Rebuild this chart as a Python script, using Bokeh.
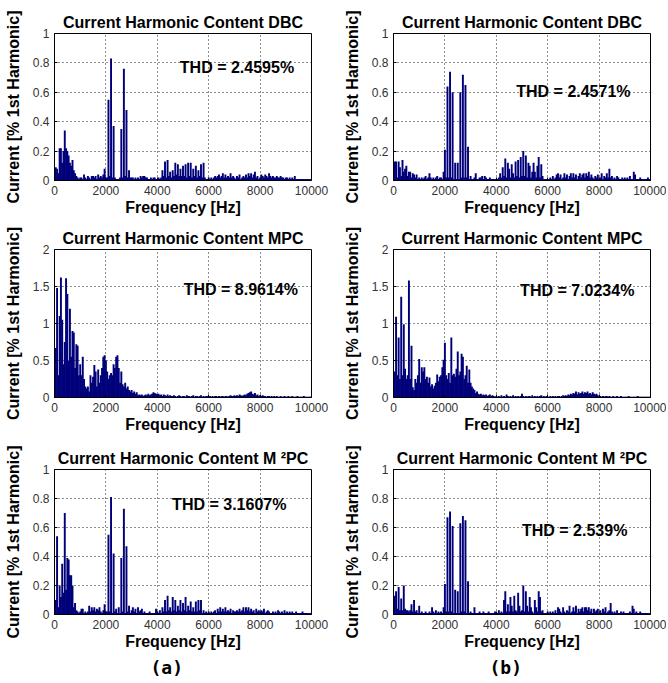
from bokeh.plotting import figure
from bokeh.layouts import column, row
from bokeh.models import Range1d, FixedTicker, Label, Title
from bokeh.embed import file_html
from bokeh.resources import INLINE

# ---------------- data ----------------
freqs = list(range(50, 10001, 50))  # harmonic frequency grid [Hz]

dbc_a = (
    [0.09,0.08,0.05,0.22,0.22,0.12,0.20,0.34,0.22,0.20,0.17,0.12,0.10,0.14,0.07,0.05,0.03,0.02,0.01,0.02]
  + [0.02,0.01,0.04,0.02,0.01,0.03,0.02,0.01,0.03,0.03,0.02,0.03,0.01,0.04,0.02,0.03,0.02,0.04,0.08,0.02]
  + [0.02,0.55,0.03,0.83,0.02,0.37,0.02,0.01,0.01,0.01,0.02,0.35,0.02,0.76,0.03,0.48,0.02,0.07,0.02,0.02]
  + [0.02,0.01,0.02,0.01,0.02,0.01,0.03,0.02,0.03,0.03,0.02,0.02,0.01,0.01,0.02,0.01,0.02,0.02,0.01,0.01]
  + [0.02,0.01,0.02,0.07,0.03,0.13,0.02,0.14,0.03,0.06,0.02,0.07,0.03,0.12,0.04,0.11,0.03,0.08,0.03,0.10]
  + [0.03,0.11,0.02,0.12,0.03,0.12,0.02,0.08,0.03,0.10,0.02,0.07,0.03,0.11,0.02,0.12,0.02,0.01,0.01,0.02]
  + [0.01,0.02,0.01,0.02,0.03,0.02,0.03,0.04,0.02,0.03,0.05,0.02,0.04,0.02,0.03,0.02,0.05,0.02,0.03,0.02]
  + [0.01,0.03,0.02,0.04,0.01,0.02,0.03,0.02,0.04,0.02,0.05,0.03,0.05,0.02,0.04,0.06,0.02,0.03,0.01,0.02]
  + [0.04,0.03,0.02,0.04,0.03,0.02,0.05,0.03,0.02,0.03,0.02,0.02,0.03,0.02,0.02,0.03,0.02,0.02,0.01,0.02]
  + [0.02,0.01,0.02,0.01,0.02,0.01,0.03,0.01,0.01,0.01,0.01,0.01,0.01,0.01,0.01,0.01,0.01,0.01,0.01,0.01]
)

dbc_b = (
    [0.13,0.13,0.02,0.13,0.09,0.03,0.14,0.06,0.08,0.10,0.03,0.06,0.06,0.02,0.05,0.04,0.02,0.04,0.01,0.02]
  + [0.01,0.02,0.01,0.02,0.03,0.01,0.02,0.05,0.02,0.01,0.02,0.01,0.02,0.03,0.01,0.02,0.02,0.01,0.06,0.21]
  + [0.02,0.64,0.02,0.74,0.02,0.60,0.01,0.12,0.01,0.12,0.01,0.60,0.02,0.72,0.02,0.65,0.02,0.23,0.01,0.03]
  + [0.01,0.01,0.02,0.05,0.01,0.01,0.02,0.02,0.03,0.01,0.03,0.02,0.01,0.01,0.02,0.01,0.01,0.01,0.01,0.01]
  + [0.01,0.02,0.05,0.02,0.09,0.03,0.15,0.02,0.12,0.08,0.02,0.11,0.05,0.02,0.13,0.03,0.14,0.02,0.16,0.03]
  + [0.20,0.03,0.17,0.02,0.12,0.10,0.02,0.06,0.12,0.06,0.02,0.10,0.16,0.02,0.11,0.03,0.01,0.01,0.01,0.01]
  + [0.01,0.02,0.01,0.03,0.01,0.02,0.04,0.05,0.02,0.04,0.01,0.02,0.05,0.02,0.04,0.01,0.03,0.05,0.02,0.05]
  + [0.02,0.04,0.01,0.03,0.05,0.02,0.04,0.05,0.02,0.05,0.03,0.06,0.02,0.04,0.02,0.01,0.03,0.02,0.04,0.01]
  + [0.02,0.05,0.01,0.03,0.02,0.05,0.02,0.08,0.02,0.03,0.01,0.02,0.01,0.03,0.02,0.01,0.01,0.02,0.01,0.02]
  + [0.01,0.02,0.01,0.03,0.01,0.01,0.06,0.04,0.01,0.01,0.01,0.02,0.01,0.01,0.01,0.01,0.01,0.02,0.01,0.01]
)

mpc_a = (
    [0.67,1.48,0.30,1.10,1.62,1.05,0.45,0.75,1.61,1.40,0.50,1.20,0.55,0.90,0.88,0.40,0.72,0.70,0.30,0.45]
  + [0.30,0.55,0.25,0.15,0.12,0.15,0.08,0.30,0.20,0.28,0.44,0.35,0.15,0.38,0.20,0.30,0.40,0.55,0.57,0.50]
  + [0.35,0.25,0.30,0.33,0.30,0.45,0.40,0.55,0.57,0.40,0.20,0.35,0.18,0.15,0.20,0.12,0.15,0.10,0.08,0.10]
  + [0.06,0.08,0.05,0.07,0.03,0.04,0.03,0.04,0.02,0.03,0.04,0.03,0.05,0.03,0.04,0.05,0.07,0.06,0.05,0.04]
  + [0.05,0.03,0.04,0.02,0.04,0.03,0.02,0.04,0.02,0.03,0.02,0.02,0.03,0.02,0.01,0.02,0.03,0.02,0.01,0.02]
  + [0.02,0.01,0.03,0.02,0.02,0.01,0.02,0.03,0.01,0.02,0.02,0.01,0.02,0.03,0.01,0.02,0.01,0.02,0.02,0.01]
  + [0.02,0.01,0.02,0.01,0.02,0.02,0.01,0.02,0.01,0.02,0.02,0.01,0.02,0.02,0.01,0.02,0.03,0.02,0.02,0.03]
  + [0.02,0.03,0.02,0.04,0.03,0.02,0.03,0.04,0.03,0.05,0.06,0.07,0.08,0.05,0.04,0.06,0.03,0.04,0.02,0.03]
  + [0.02,0.03,0.02,0.02,0.01,0.02,0.02,0.01,0.02,0.01,0.02,0.01,0.02,0.01,0.01,0.02,0.01,0.01,0.02,0.01]
  + [0.01,0.02,0.01,0.01,0.02,0.01,0.01,0.01,0.02,0.01,0.01,0.01,0.01,0.02,0.01,0.01,0.01,0.01,0.01,0.01]
)

mpc_b = (
    [0.35,1.09,0.30,0.81,0.25,1.36,0.30,0.99,0.39,0.25,0.30,1.58,0.25,0.70,0.14,0.10,0.25,0.20,0.30,0.52]
  + [0.20,0.41,0.35,0.41,0.25,0.28,0.20,0.27,0.15,0.18,0.12,0.16,0.20,0.31,0.22,0.28,0.30,0.41,0.51,0.74]
  + [0.30,0.25,0.33,0.20,0.81,0.30,0.32,0.28,0.39,0.62,0.30,0.35,0.59,0.55,0.25,0.30,0.43,0.20,0.38,0.20]
  + [0.15,0.12,0.10,0.06,0.08,0.05,0.04,0.05,0.03,0.04,0.03,0.04,0.02,0.03,0.04,0.02,0.03,0.02,0.01,0.02]
  + [0.01,0.02,0.01,0.03,0.01,0.02,0.01,0.04,0.02,0.01,0.02,0.01,0.03,0.01,0.02,0.01,0.02,0.01,0.02,0.05]
  + [0.02,0.01,0.02,0.01,0.02,0.02,0.01,0.03,0.01,0.02,0.01,0.02,0.01,0.02,0.03,0.01,0.02,0.01,0.02,0.01]
  + [0.01,0.02,0.01,0.02,0.01,0.02,0.01,0.02,0.02,0.01,0.02,0.03,0.02,0.03,0.02,0.04,0.03,0.05,0.04,0.06]
  + [0.05,0.08,0.04,0.07,0.05,0.06,0.08,0.05,0.07,0.06,0.08,0.05,0.06,0.04,0.07,0.05,0.04,0.05,0.03,0.02]
  + [0.02,0.01,0.02,0.01,0.02,0.02,0.01,0.02,0.01,0.01,0.02,0.01,0.01,0.02,0.01,0.01,0.02,0.01,0.01,0.01]
  + [0.01,0.01,0.02,0.01,0.01,0.01,0.01,0.01,0.01,0.02,0.01,0.01,0.01,0.01,0.01,0.01,0.01,0.01,0.01,0.01]
)

m2pc_a = (
    [0.10,0.54,0.05,0.20,0.12,0.35,0.15,0.70,0.17,0.39,0.38,0.27,0.27,0.20,0.05,0.08,0.03,0.02,0.01,0.02]
  + [0.04,0.04,0.01,0.02,0.01,0.02,0.06,0.02,0.05,0.03,0.05,0.02,0.04,0.03,0.05,0.02,0.01,0.03,0.07,0.02]
  + [0.02,0.55,0.02,0.81,0.01,0.42,0.02,0.04,0.01,0.05,0.01,0.39,0.02,0.73,0.01,0.47,0.02,0.06,0.01,0.03]
  + [0.05,0.02,0.04,0.01,0.05,0.02,0.03,0.04,0.01,0.02,0.01,0.01,0.01,0.02,0.01,0.01,0.01,0.01,0.04,0.02]
  + [0.01,0.03,0.01,0.05,0.02,0.10,0.02,0.13,0.03,0.05,0.02,0.12,0.03,0.10,0.02,0.06,0.03,0.10,0.02,0.08]
  + [0.03,0.12,0.02,0.06,0.03,0.09,0.02,0.05,0.02,0.09,0.02,0.10,0.03,0.10,0.01,0.03,0.01,0.02,0.01,0.02]
  + [0.01,0.02,0.01,0.02,0.03,0.01,0.04,0.02,0.05,0.02,0.04,0.02,0.05,0.02,0.03,0.02,0.04,0.01,0.03,0.02]
  + [0.02,0.03,0.02,0.04,0.02,0.03,0.05,0.02,0.05,0.03,0.05,0.02,0.04,0.02,0.03,0.01,0.04,0.02,0.03,0.02]
  + [0.03,0.02,0.04,0.01,0.02,0.03,0.02,0.01,0.01,0.02,0.01,0.02,0.01,0.03,0.02,0.01,0.02,0.01,0.03,0.01]
  + [0.02,0.01,0.02,0.01,0.02,0.01,0.01,0.02,0.01,0.01,0.01,0.01,0.02,0.01,0.01,0.01,0.01,0.01,0.01,0.01]
)

m2pc_b = (
    [0.13,0.16,0.04,0.19,0.03,0.11,0.03,0.20,0.04,0.03,0.03,0.02,0.03,0.07,0.02,0.10,0.02,0.03,0.01,0.06]
  + [0.01,0.02,0.01,0.01,0.02,0.01,0.01,0.02,0.01,0.05,0.02,0.01,0.03,0.01,0.02,0.01,0.02,0.01,0.05,0.21]
  + [0.02,0.67,0.02,0.71,0.02,0.61,0.01,0.17,0.01,0.16,0.01,0.63,0.02,0.68,0.02,0.65,0.01,0.23,0.01,0.02]
  + [0.01,0.01,0.05,0.01,0.01,0.01,0.02,0.01,0.01,0.02,0.01,0.01,0.01,0.02,0.01,0.01,0.01,0.01,0.02,0.01]
  + [0.01,0.03,0.01,0.02,0.01,0.10,0.16,0.02,0.07,0.02,0.12,0.06,0.02,0.13,0.03,0.02,0.15,0.06,0.02,0.03]
  + [0.20,0.02,0.16,0.06,0.02,0.12,0.05,0.02,0.01,0.10,0.05,0.02,0.16,0.12,0.02,0.03,0.01,0.01,0.01,0.02]
  + [0.01,0.02,0.01,0.02,0.01,0.03,0.01,0.05,0.04,0.02,0.01,0.05,0.02,0.01,0.03,0.02,0.06,0.01,0.02,0.05]
  + [0.02,0.06,0.01,0.04,0.02,0.04,0.05,0.02,0.05,0.05,0.03,0.05,0.02,0.04,0.01,0.04,0.02,0.03,0.04,0.01]
  + [0.03,0.01,0.04,0.02,0.05,0.01,0.02,0.03,0.08,0.02,0.01,0.02,0.01,0.03,0.01,0.01,0.02,0.01,0.02,0.01]
  + [0.01,0.01,0.01,0.02,0.01,0.06,0.04,0.01,0.02,0.01,0.01,0.02,0.01,0.01,0.01,0.01,0.01,0.01,0.01,0.01]
)

x_ticks = [0, 2000, 4000, 6000, 8000, 10000]
y_ticks_1 = [0, 0.2, 0.4, 0.6, 0.8, 1]
y_labels_1 = ["0", "0.2", "0.4", "0.6", "0.8", "1"]
y_ticks_2 = [0, 0.5, 1, 1.5, 2]
y_labels_2 = ["0", "0.5", "1", "1.5", "2"]

titles = ["Current Harmonic Content DBC", "Current Harmonic Content MPC",
          "Current Harmonic Content M \u00b2PC"]
thd_a = ["THD = 2.4595%", "THD = 8.9614%", "THD = 3.1607%"]
thd_b = ["THD = 2.4571%", "THD = 7.0234%", "THD = 2.539%"]
sub_labels = ["(a)", "(b)"]

# ---------------- styling ----------------
BAR = "#00007A"
FONT = "Liberation Sans"
COL_W = [334, 332]
ROW_H = [222, 218, 240]
BORDER_TB = [(33, 42), (27, 43), (29, 66)]
BORDER_LR = [(54, 23), (59, 16)]


def panel(r, c, title, vals, ymax, yt, yl, thd, thd_pos, sub=None):
    top, bottom = BORDER_TB[r]
    left, right = BORDER_LR[c]
    p = figure(width=COL_W[c], height=ROW_H[r], output_backend="svg", toolbar_location=None,
               x_range=Range1d(0, 10000), y_range=Range1d(0, ymax),
               min_border_left=left, min_border_right=right,
               min_border_top=top, min_border_bottom=bottom)
    p.vbar(x=freqs, top=vals, width=75, fill_color=BAR, line_color=None)

    p.title.text = title
    p.title.align = "center"
    p.title.text_font = FONT
    p.title.text_font_size = "16px"
    p.title.text_font_style = "bold"
    p.title.text_color = "black"
    p.title.standoff = 6

    p.xaxis.ticker = FixedTicker(ticks=x_ticks)
    p.yaxis.ticker = FixedTicker(ticks=yt)
    p.yaxis.major_label_overrides = {t: s for t, s in zip(yt, yl)}
    p.xaxis.axis_label = "Frequency [Hz]"
    p.yaxis.axis_label = "Current [% 1st Harmonic]"
    for ax in (p.xaxis[0], p.yaxis[0]):
        ax.axis_label_text_font = FONT
        ax.axis_label_text_font_size = "16px"
        ax.axis_label_text_font_style = "bold"
        ax.axis_label_text_color = "black"
        ax.major_label_text_font = FONT
        ax.major_label_text_font_size = "12px"
        ax.major_label_text_color = "#333333"
        ax.major_tick_in = 3
        ax.major_tick_out = 0
        ax.minor_tick_in = 0
        ax.minor_tick_out = 0
        ax.axis_line_color = "black"
        ax.major_tick_line_color = "black"
        ax.major_label_standoff = 5
    p.xaxis.axis_label_standoff = 1
    p.yaxis.axis_label_standoff = 8

    p.xgrid.grid_line_color = "black"
    p.ygrid.grid_line_color = "black"
    p.xgrid.grid_line_dash = "1 3"
    p.ygrid.grid_line_dash = "1 3"
    p.xgrid.grid_line_alpha = 0.9
    p.ygrid.grid_line_alpha = 0.9
    p.outline_line_color = "black"
    p.outline_line_alpha = 1
    p.background_fill_color = "white"
    p.border_fill_color = "white"

    p.add_layout(Label(x=thd_pos[0], y=thd_pos[1], text=thd, text_font=FONT,
                       text_font_size="16px", text_font_style="bold", text_color="black",
                       text_align="center", text_baseline="middle"))
    if sub is not None:
        p.add_layout(Title(text=sub, align="left", offset=96, text_font="DejaVu Sans Mono",
                           text_font_size="18px", text_font_style="bold", text_color="black",
                           standoff=4),
                     "below")
    return p


p1 = panel(0, 0, titles[0], dbc_a, 1, y_ticks_1, y_labels_1, thd_a[0], (7100, 0.77))
p2 = panel(0, 1, titles[0], dbc_b, 1, y_ticks_1, y_labels_1, thd_b[0], (7000, 0.605))
p3 = panel(1, 0, titles[1], mpc_a, 2, y_ticks_2, y_labels_2, thd_a[1], (7250, 1.46))
p4 = panel(1, 1, titles[1], mpc_b, 2, y_ticks_2, y_labels_2, thd_b[1], (7150, 1.45))
p5 = panel(2, 0, titles[2], m2pc_a, 1, y_ticks_1, y_labels_1, thd_a[2], (6800, 0.76), sub_labels[0])
p6 = panel(2, 1, titles[2], m2pc_b, 1, y_ticks_1, y_labels_1, thd_b[2], (7050, 0.58), sub_labels[1])

layout = column(row(p1, p2), row(p3, p4), row(p5, p6))

open("out.html", "w").write(file_html(layout, INLINE))
